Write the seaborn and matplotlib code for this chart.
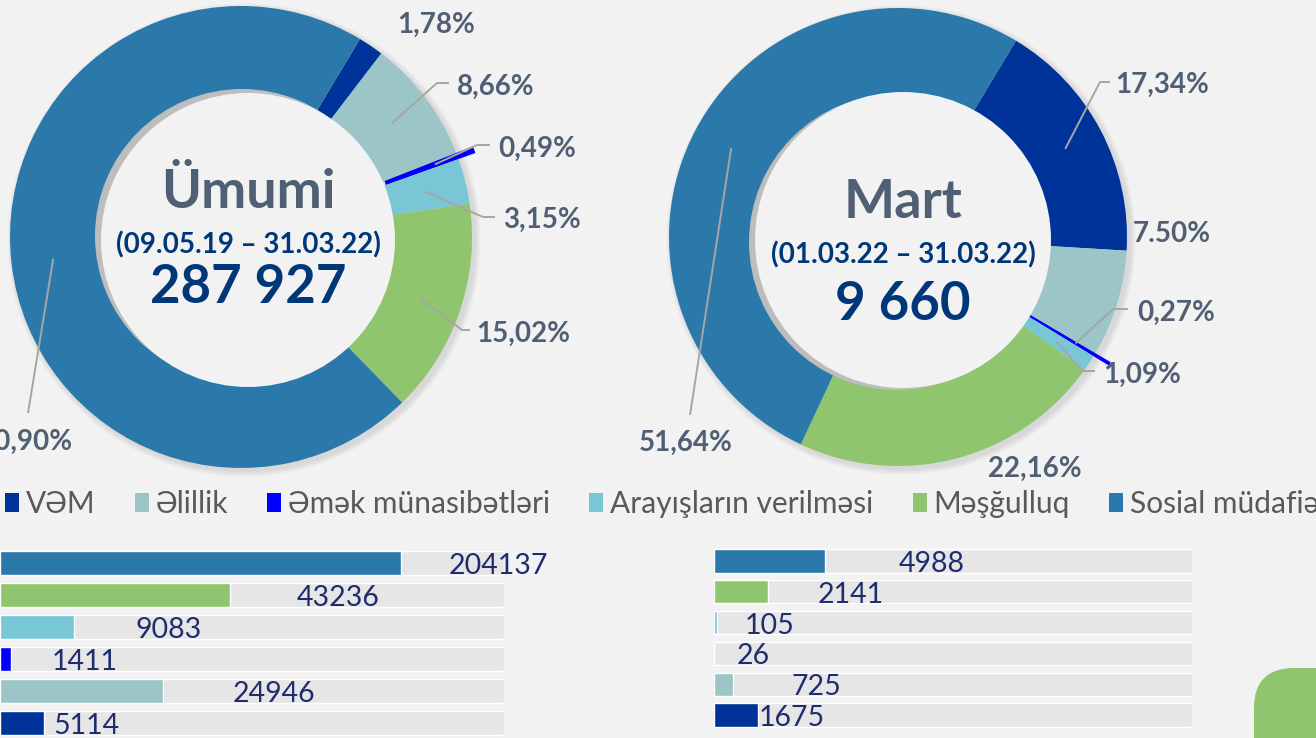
import numpy as np
import pandas as pd
import matplotlib
matplotlib.use("Agg")
import matplotlib.pyplot as plt
import seaborn as sns
from matplotlib.patches import Circle, Patch, FancyBboxPatch

# data
categories = ["VƏM", "Əlillik", "Əmək münasibətləri", "Arayışların verilməsi", "Məşğulluq", "Sosial müdafiə"]
umumi_counts = [5114, 24946, 1411, 9083, 43236, 204137]
mart_counts = [1675, 725, 26, 105, 2141, 4988]
umumi_pct_labels = ["1,78%", "8,66%", "0,49%", "3,15%", "15,02%", "70,90%"]
mart_pct_labels = ["17,34%", "7.50%", "0,27%", "1,09%", "22,16%", "51,64%"]
# bar lengths as drawn on the slide, in % of the grey track
umumi_bar_fill = [8.7, 32.3, 2.2, 14.7, 45.6, 79.6]
mart_bar_fill = [9.2, 4.0, 0.0, 0.6, 11.3, 23.2]
umumi_title, umumi_period = "Ümumi", "(09.05.19 – 31.03.22)"
mart_title, mart_period = "Mart", "(01.03.22 – 31.03.22)"

colors = ["#00339a", "#9bc5c6", "#0000ff", "#79c6d6", "#8ec56e", "#2b78ab"]
BG = "#f2f2f2"
PCT_COLOR = "#505f74"
NAVY = "#003778"
W, H = 1316, 738

sns.set_style("white")
plt.rcParams["font.family"] = ["Lato", "DejaVu Sans"]

fig = plt.figure(figsize=(W / 100, H / 100), dpi=100, facecolor=BG)
ax = fig.add_axes([0, 0, 1, 1])
ax.set_facecolor(BG)


def Y(y):
    return H - y


def donut(cx, cy, r_out, counts, pct_labels, label_pos, leaders, white, shadow_off,
          title, period, baselines):
    explode = [18 if c == "Əmək münasibətləri" else 0 for c in categories]
    # soft drop shadow
    for i in range(4):
        ax.add_patch(Circle((cx + 3, Y(cy) - 3), r_out + 1 + i * 1.5, color="#808080",
                            alpha=0.06, lw=0, zorder=1))
    wedges, _ = ax.pie(counts, colors=colors, radius=r_out, center=(cx, Y(cy)),
                       startangle=59, counterclock=False, explode=explode,
                       wedgeprops=dict(width=95, linewidth=0, zorder=2))
    wx, wy, wr = white
    ax.add_patch(Circle((wx + shadow_off[0], Y(wy + shadow_off[1])), wr, color="#bdbdbd", lw=0, zorder=3))
    ax.add_patch(Circle((wx, Y(wy)), wr, color=BG, lw=0, zorder=4))

    for w, lab, lp, ld in zip(wedges, pct_labels, label_pos, leaders):
        ang = np.deg2rad((w.theta1 + w.theta2) / 2)
        x0 = w.center[0] + 189 * np.cos(ang)
        y0 = w.center[1] + 189 * np.sin(ang)
        if ld is not None:
            xs = [x0] + [p[0] for p in ld]
            ys = [y0] + [Y(p[1]) for p in ld]
            ax.plot(xs, ys, color="#a6a6a6", lw=1.4, zorder=5, solid_capstyle="butt")
        x, yb, ha = lp
        ax.text(x, Y(yb), lab, ha=ha, va="baseline", fontsize=20, fontweight="bold",
                color=PCT_COLOR, zorder=6)

    total = f"{sum(counts):,}".replace(",", " ")
    ax.text(wx, Y(baselines[0]), title, ha="center", va="baseline", fontsize=39,
            fontweight="bold", color=PCT_COLOR, zorder=6)
    ax.text(wx, Y(baselines[1]), period, ha="center", va="baseline", fontsize=20,
            fontweight="bold", color=NAVY, zorder=6)
    ax.text(wx, Y(baselines[2]), total, ha="center", va="baseline", fontsize=38,
            fontweight="bold", color=NAVY, zorder=6)


donut(241, 237, 231, umumi_counts, umumi_pct_labels,
      [(397, 33, "left"), (457, 95, "left"), (498, 157, "left"), (503, 228, "left"),
       (476, 342, "left"), (73, 450, "right")],
      [None, [(437, 83), (449, 83)], [(477, 145), (490, 145)], [(483, 217), (495, 217)],
       [(462, 330), (470, 330)], [(28, 413)]],
      (248, 240, 147), (-6, -4), umumi_title, umumi_period, (208, 253, 303))

donut(898, 237, 229, mart_counts, mart_pct_labels,
      [(1115, 93, "left"), (1133, 242, "left"), (1137, 321, "left"), (1103, 383, "left"),
       (1035, 477, "center"), (686, 451, "center")],
      [[(1100, 82), (1110, 82)], None, [(1113, 309), (1128, 309)], [(1082, 371), (1095, 371)],
       None, [(690, 415)]],
      (903, 240, 148), (-6, 2), mart_title, mart_period, (218, 263, 320))

# green corner decoration
ax.add_patch(FancyBboxPatch((1254, Y(668) - 120), 200, 120,
                            boxstyle="round,pad=0,rounding_size=40",
                            color="#8ec56e", lw=0, zorder=1))

ax.set_xlim(0, W)
ax.set_ylim(0, H)
ax.set_aspect("auto")
ax.axis("off")

# legend
handles = [Patch(facecolor=c, edgecolor="none") for c in colors]
fig.legend(handles, categories, ncol=6, loc="center left",
           bbox_to_anchor=(5 / W, (H - 504) / H), frameon=False, fontsize=21.5,
           labelcolor="#595959", handlelength=0.47, handleheight=0.62,
           handletextpad=0.22, columnspacing=1.32, borderaxespad=0, borderpad=0)


def bars(rect, fill, counts, offsets):
    bax = fig.add_axes(rect)
    df = pd.DataFrame({"cat": categories, "fill": fill, "count": counts,
                       "off": offsets}).iloc[::-1].reset_index(drop=True)
    df["track"] = 100
    sns.barplot(data=df, x="track", y="cat", color="#e6e6e6", saturation=1,
                width=0.75, ax=bax)
    sns.barplot(data=df, x="fill", y="cat", hue="cat",
                palette=dict(zip(categories, colors)), saturation=1,
                width=0.75, legend=False, ax=bax)
    for i, row in df.iterrows():
        bax.annotate(str(row["count"]), xy=(row["fill"], i), xytext=(row["off"], -3),
                     textcoords="offset pixels", ha="left", va="center",
                     fontsize=20.5, color="#1f2d6e", annotation_clip=False)
    bax.set_xlim(0, 100)
    bax.set_ylim(5.5, -0.5)
    bax.patch.set_alpha(0)
    bax.axis("off")


bars([0, (H - 739) / H, 504 / W, 192 / H], umumi_bar_fill, umumi_counts,
     [9, 70, 41, 61, 67, 47])
bars([714 / W, (H - 730.4) / H, 478 / W, 184.8 / H], mart_bar_fill, mart_counts,
     [1, 58, 23, 28, 50, 74])

fig.savefig("out.png", dpi=100, facecolor=BG)
